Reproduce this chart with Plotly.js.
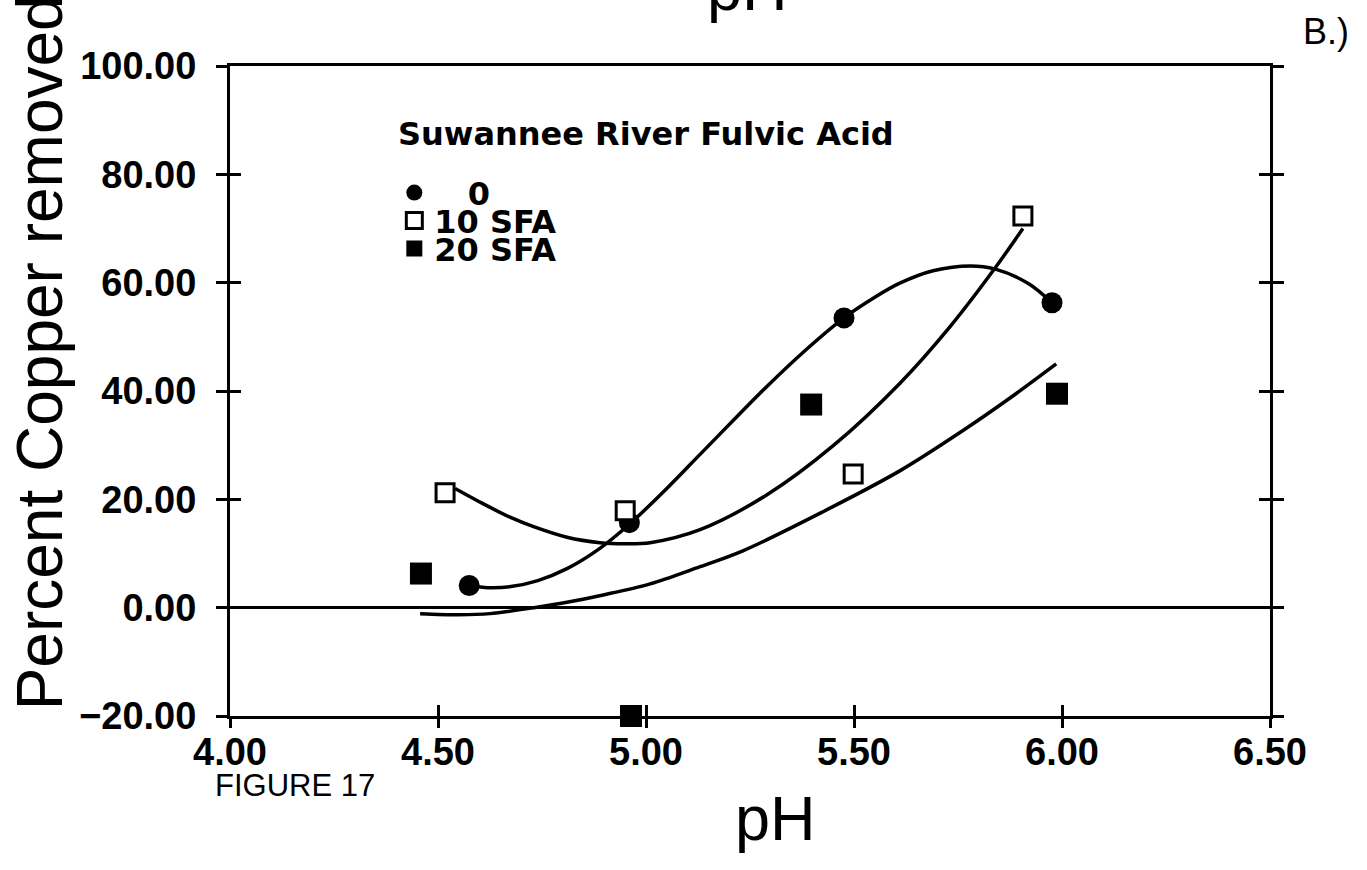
<!DOCTYPE html>
<html>
<head>
<meta charset="utf-8">
<script src="https://cdn.plot.ly/plotly-3.0.1.min.js"></script>
<style>
  html, body { margin: 0; padding: 0; background: #ffffff; }
  #chart { width: 1367px; height: 870px; }
</style>
</head>
<body>
<div id="chart"></div>
<script>
// ---- Data ----
const seriesNames = ["\u2007\u00a00", "10 SFA", "20 SFA"];

// measured points
const ph0  = [4.575, 4.96, 5.476, 5.976];
const pct0 = [4.1, 15.7, 53.5, 56.3];
const ph10  = [4.517, 4.95, 5.498, 5.906];
const pct10 = [21.2, 17.9, 24.7, 72.3];
const ph20  = [4.459, 4.964, 5.397, 5.988];
const pct20 = [6.3, -20.0, 37.5, 39.5];

// fitted curves as traced on the figure
const fit0Ph  = [4.575, 4.62, 4.675, 4.74, 4.81, 4.89, 4.96, 5.05, 5.13, 5.21, 5.29, 5.38, 5.476, 5.55, 5.61, 5.69, 5.78, 5.84, 5.92, 5.976];
const fit0Pct = [4.1, 3.7, 3.9, 5.0, 7.2, 11.0, 15.4, 22.0, 28.3, 34.6, 40.8, 47.3, 53.5, 57.3, 59.9, 62.2, 63.1, 62.5, 59.8, 56.3];
const fit10Ph  = [4.541, 4.608, 4.673, 4.728, 4.81, 4.889, 4.95, 5.01, 5.13, 5.29, 5.45, 5.61, 5.73, 5.84, 5.906];
const fit10Pct = [22.0, 19.2, 16.7, 15.0, 13.0, 12.0, 11.8, 12.0, 14.4, 20.8, 29.9, 41.4, 51.8, 62.8, 70.0];
const fit20Ph  = [4.457, 4.55, 4.625, 4.73, 4.81, 4.90, 5.01, 5.12, 5.233, 5.42, 5.611, 5.762, 5.875, 5.986];
const fit20Pct = [-1.1, -1.3, -1.1, 0.0, 1.0, 2.4, 4.4, 7.3, 10.5, 17.5, 25.3, 32.7, 38.7, 45.0];

const xTickVals = [4.0, 4.5, 5.0, 5.5, 6.0, 6.5];
const yTickVals = [-20, 0, 20, 40, 60, 80, 100];

// ---- Styles ----
const lineStyle = {color: "#000", width: 3.5, shape: "spline", smoothing: 0.9};
const legFont = {family: "DejaVu Sans", size: 32, weight: "bold", color: "#000"};

const traces = [
  {x: fit0Ph, y: fit0Pct, mode: "lines", line: lineStyle, showlegend: false, hoverinfo: "skip"},
  {x: fit10Ph, y: fit10Pct, mode: "lines", line: lineStyle, showlegend: false, hoverinfo: "skip"},
  {x: fit20Ph, y: fit20Pct, mode: "lines", line: lineStyle, showlegend: false, hoverinfo: "skip"},
  {x: ph0, y: pct0, mode: "markers", name: seriesNames[0], cliponaxis: false, legend: "legend",
   marker: {symbol: "circle", size: 21, color: "#000"}},
  {x: ph10, y: pct10, mode: "markers", name: seriesNames[1], cliponaxis: false, legend: "legend2",
   marker: {symbol: "square", size: 18, color: "#fff", line: {color: "#000", width: 3}}},
  {x: ph20, y: pct20, mode: "markers", name: seriesNames[2], cliponaxis: false, legend: "legend3",
   marker: {symbol: "square", size: 22, color: "#000"}},
  {x: [], y: [], xaxis: "x2", yaxis: "y2", showlegend: false, hoverinfo: "skip"}
];

const tickFont = {family: "Liberation Sans, Arial, sans-serif", size: 38, weight: "bold", color: "#000"};

function legendAt(y) {
  return {x: 0.158, xanchor: "left", y: y, yanchor: "middle", bgcolor: "rgba(0,0,0,0)",
          borderwidth: 0, font: legFont, itemclick: false};
}

const layout = {
  width: 1367, height: 870,
  margin: {l: 230, r: 97, t: 66, b: 154, pad: 0},
  paper_bgcolor: "#fff", plot_bgcolor: "#fff",
  showlegend: true,
  xaxis: {
    range: [4.0, 6.5], autorange: false, tickvals: xTickVals, tickformat: ".2f",
    ticks: "inside", ticklen: 11, tickwidth: 3, tickcolor: "#000",
    showline: true, linewidth: 3, linecolor: "#000", mirror: true,
    showgrid: false, zeroline: false, tickfont: tickFont, ticklabelstandoff: 0
  },
  xaxis2: {
    overlaying: "x", anchor: "y", side: "bottom",
    range: [4.0, 6.5], autorange: false, tickvals: xTickVals,
    ticks: "outside", ticklen: 11, tickwidth: 3, tickcolor: "#000",
    showticklabels: false, showline: false, showgrid: false, zeroline: false
  },
  yaxis: {
    range: [-20, 100], autorange: false, tickvals: yTickVals, tickformat: ".2f",
    ticks: "outside", ticklen: 11, tickwidth: 3, tickcolor: "#000",
    showline: true, linewidth: 3, linecolor: "#000", mirror: "ticks",
    showgrid: false, zeroline: true, zerolinecolor: "#000", zerolinewidth: 3,
    tickfont: tickFont, ticklabelstandoff: 12
  },
  yaxis2: {
    overlaying: "y", anchor: "x", side: "left",
    range: [-20, 100], autorange: false, tickvals: yTickVals,
    ticks: "inside", ticklen: 11, tickwidth: 3, tickcolor: "#000", mirror: "ticks",
    showticklabels: false, showline: false, showgrid: false, zeroline: false
  },
  legend: legendAt(0.805),
  legend2: legendAt(0.762),
  legend3: legendAt(0.719),
  annotations: [
    {text: "Percent Copper removed", xref: "paper", yref: "paper", x: -0.183, y: 0.559,
     xanchor: "center", yanchor: "middle", textangle: -90, showarrow: false,
     font: {family: "Liberation Sans, Arial, sans-serif", size: 64, color: "#000"}},
    {text: "pH", xref: "paper", yref: "paper", x: (775 - 230) / 1040, y: -0.157,
     xanchor: "center", yanchor: "middle", showarrow: false,
     font: {family: "Liberation Sans, Arial, sans-serif", size: 63, color: "#000"}},
    {text: "pH", xref: "paper", yref: "paper", x: (747 - 230) / 1040, y: 1.12,
     xanchor: "center", yanchor: "middle", showarrow: false,
     font: {family: "Liberation Sans, Arial, sans-serif", size: 63, color: "#000"}},
    {text: "FIGURE 17", xref: "paper", yref: "paper", x: (295 - 230) / 1040, y: (716 - 786) / 651,
     xanchor: "center", yanchor: "middle", showarrow: false,
     font: {family: "Liberation Sans, Arial, sans-serif", size: 31, color: "#000"}},
    {text: "B.)", xref: "paper", yref: "paper", x: (1326 - 230) / 1040, y: (716 - 30) / 651,
     xanchor: "center", yanchor: "middle", showarrow: false,
     font: {family: "Liberation Sans, Arial, sans-serif", size: 36, color: "#000"}},
    {text: "Suwannee River Fulvic Acid", xref: "paper", yref: "paper", x: (396 - 230) / 1040, y: (716 - 133) / 651,
     xanchor: "left", yanchor: "middle", showarrow: false,
     font: {family: "DejaVu Sans", size: 32, weight: "bold", color: "#000"}}
  ]
};

Plotly.newPlot("chart", traces, layout, {displayModeBar: false, staticPlot: true});
</script>
</body>
</html>
